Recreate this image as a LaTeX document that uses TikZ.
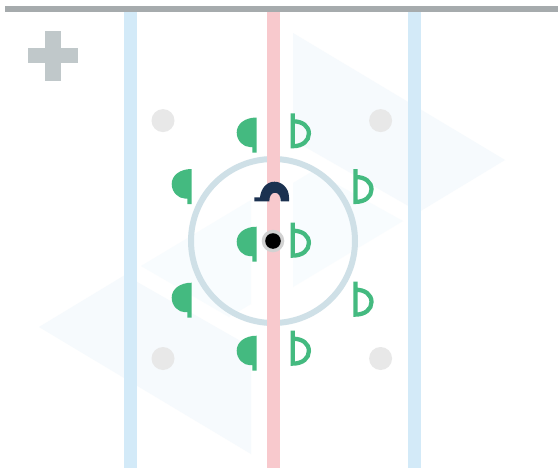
\documentclass[tikz,border=0pt]{standalone}
\usetikzlibrary{calc}
\definecolor{Rail}{HTML}{A6ABAD}
\definecolor{Cross}{HTML}{C0C8CA}
\definecolor{BlueLine}{HTML}{D3EAF8}
\definecolor{RedLine}{HTML}{F8C9CD}
\definecolor{Ring}{HTML}{CFE0E7}
\definecolor{Spot}{HTML}{E8E8E8}
\definecolor{SpotRim}{HTML}{D2D2D2}
\definecolor{Team}{HTML}{44BA80}
\definecolor{Keeper}{HTML}{1B3150}
\definecolor{WedgeBig}{HTML}{F6FAFD}
\definecolor{WedgeSmall}{HTML}{F8FCFE}
\tikzset{
  rail/.style={fill=Rail,draw=none},
  crossbox/.style={fill=Cross,draw=none},
  bigwedge/.style={fill=WedgeBig,draw=none},
  smallwedge/.style={fill=WedgeSmall,draw=none},
  blueband/.style={fill=BlueLine,draw=none},
  redband/.style={fill=RedLine,draw=none},
  faceoff/.style={draw=Ring,line width=4.5pt},
  spotdot/.style={fill=Spot,draw=none},
  solidplayer/.pic={
    \fill[Team] (0,0) .. controls (-12,0) and (-20,6.5) .. (-20,15)
      .. controls (-20,23.5) and (-13,29.5) .. (-7,29.5)
      -- (-4.4,29.5) -- (-4.4,35) -- (0,35) -- cycle;
  },
  openplayer/.pic={
    \draw[Team,line width=3.2pt] (2.15,0) -- (2.15,32.9)
      .. controls (12,32.9) and (18.2,27.5) .. (18.2,20.3)
      .. controls (18.2,13) and (12,8) .. (2.15,8);
  }
}

\begin{document}
\begin{tikzpicture}[x=0.75pt,y=-0.75pt]
  \useasboundingbox (0,0) rectangle (558,468);
  \fill[white] (0,0) rectangle (558,468);
  \fill[bigwedge] (293,33) -- (505,160) -- (419,212) -- (293,140) -- cycle;
  \fill[bigwedge] (251,454) -- (39,327) -- (125,275) -- (251,347) -- cycle;
  \fill[smallwedge] (293,183) -- (313,171) -- (403,221) -- (293,287) -- cycle;
  \fill[smallwedge] (251,304) -- (229,317) -- (141,266) -- (251,200) -- cycle;
  \fill[blueband] (124,11) rectangle (137,468);
  \fill[blueband] (408,11) rectangle (421,468);
  \draw[faceoff] (273,241) circle (82);
  \fill[redband] (266.7,11) rectangle (279.7,468);
  \fill[rail] (5,6) rectangle (558,11.7);
  \fill[crossbox] (45.3,31.3) rectangle (61,80.7);
  \fill[crossbox] (28,48.3) rectangle (78.3,63.3);
  \foreach \spotx/\spoty in {163/120.6,380.6/120.6,163/358.5,380.6/358.5}
    \fill[spotdot] (\spotx,\spoty) circle (11.5);
  \fill[SpotRim] (273,241) circle (11.3);
  \fill[black] (273,241) circle (7.8);
  \foreach \px/\py in {256.7/117.5,191.7/169,256.7/226.7,191.7/282.7,256.7/335.7}
    \pic at (\px,\py) {solidplayer};
  \foreach \px/\py in {290.7/113.3,353.3/169,290.7/222.7,353.3/281.7,290.7/330.7}
    \pic at (\px,\py) {openplayer};
  \fill[Keeper] (254.3,201.3) -- (254.3,197.3) -- (260,197.3)
    .. controls (261,188) and (267,181.7) .. (274.5,181.7)
    .. controls (282,181.7) and (289,188) .. (289,197.5)
    -- (289,201.3) -- (280.8,201.3)
    .. controls (280.8,196) and (278.5,192.7) .. (275,192.7)
    .. controls (271.5,192.7) and (269.3,196) .. (269.3,201.3) -- cycle;
\end{tikzpicture}
\end{document}
